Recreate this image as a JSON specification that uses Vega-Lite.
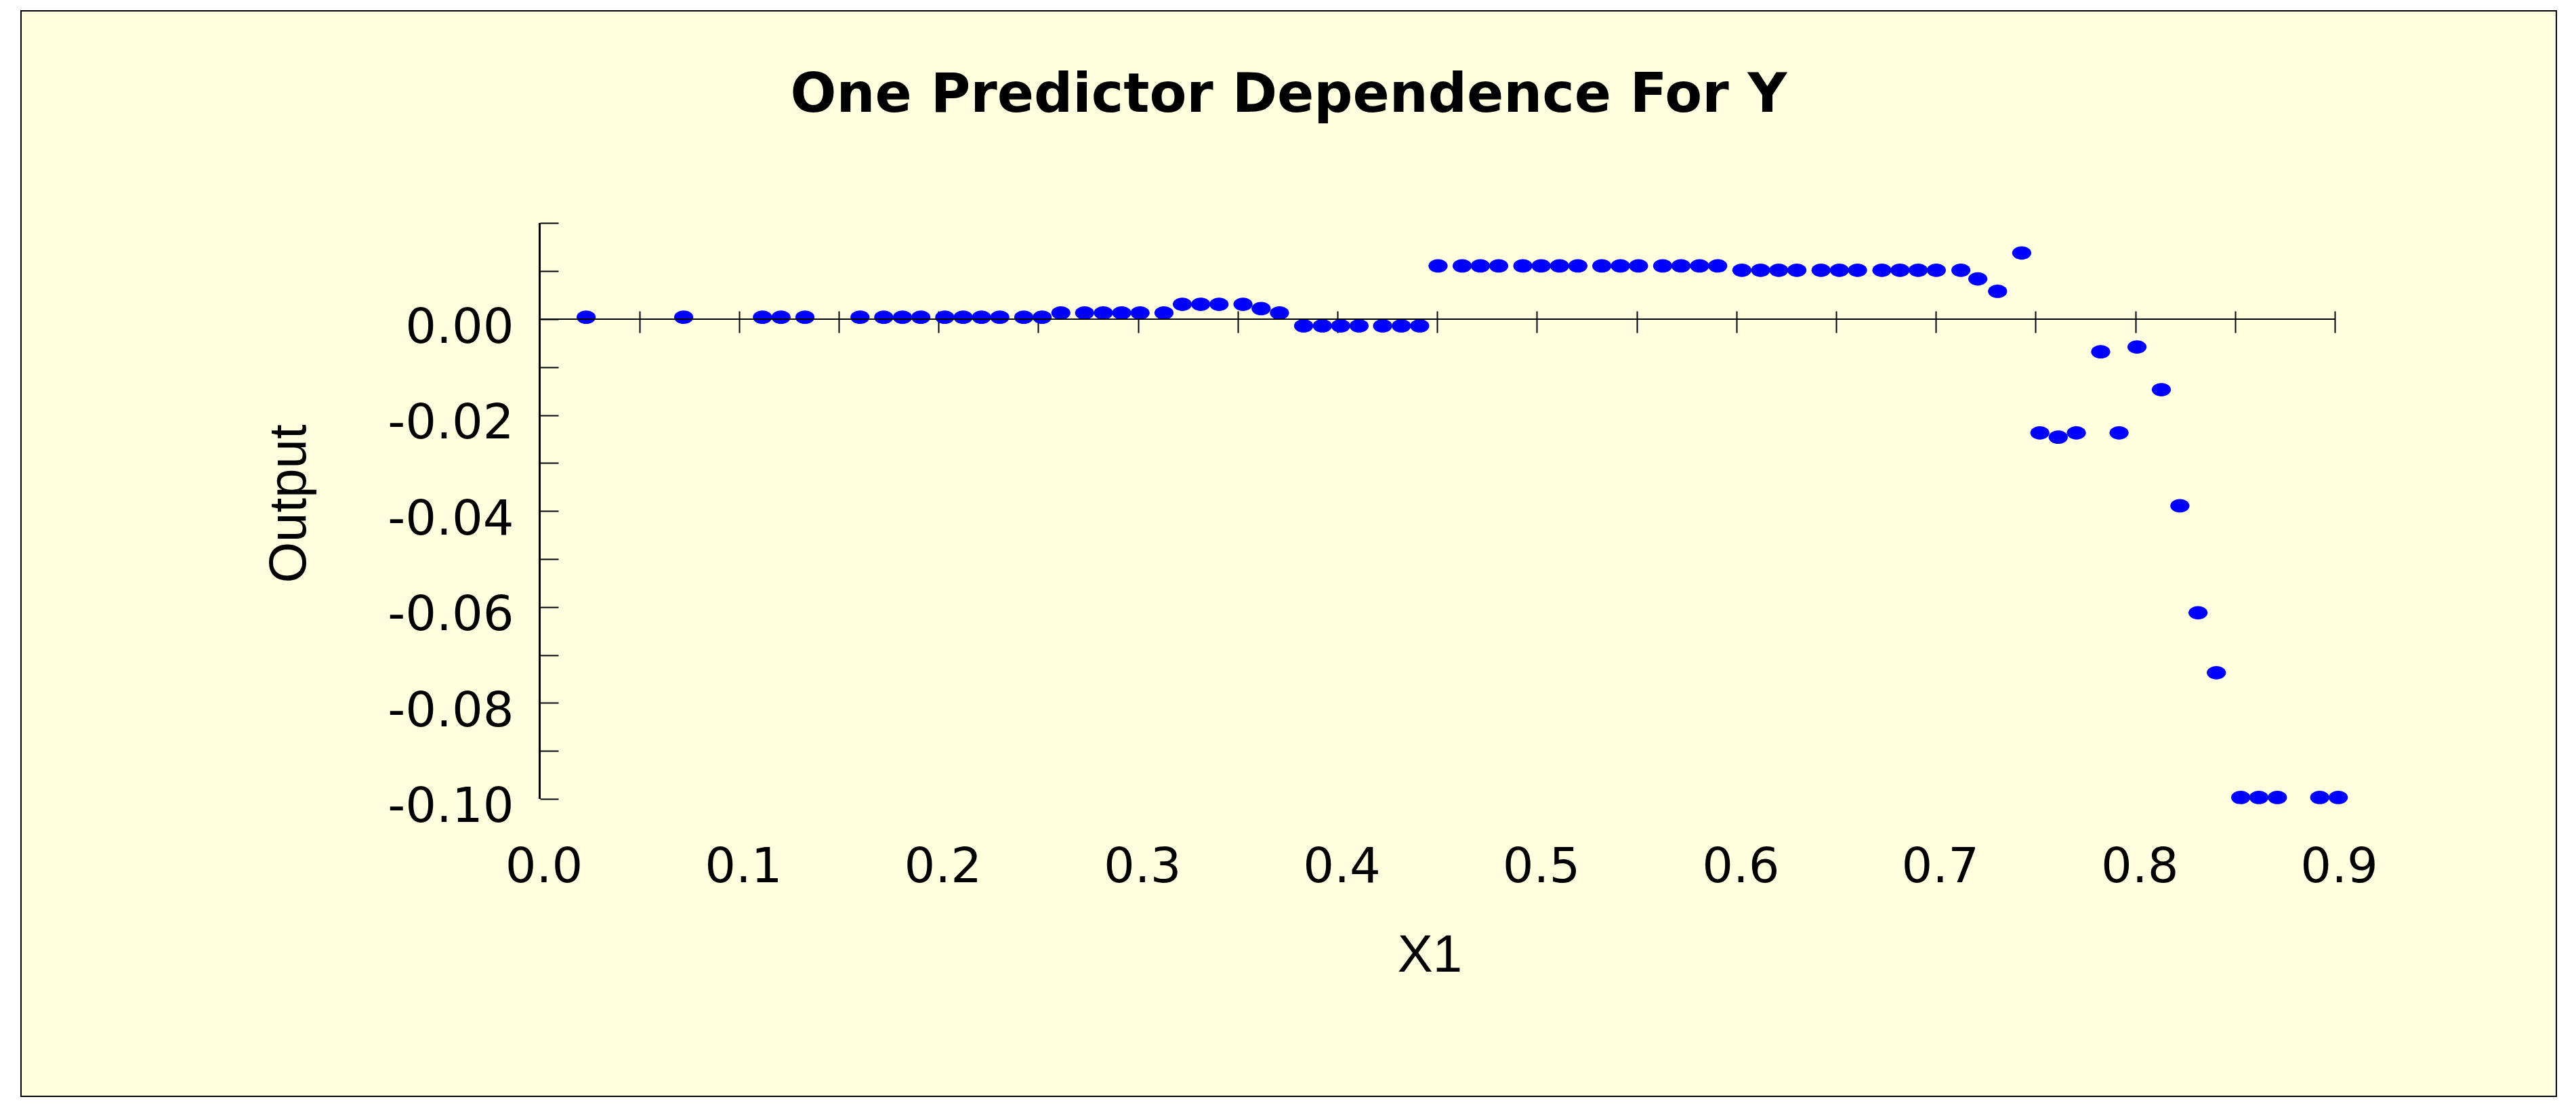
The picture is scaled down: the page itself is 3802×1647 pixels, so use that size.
{
  "$schema": "https://vega.github.io/schema/vega-lite/v6.json",
  "width": 3742,
  "height": 1602,
  "autosize": {"type": "none"},
  "padding": {"left": 31, "top": 16, "right": 29, "bottom": 29},
  "background": "white",
  "title": {
    "text": "One Predictor Dependence For Y",
    "font": "DejaVu Sans",
    "fontSize": 80,
    "fontWeight": "bold",
    "color": "black",
    "anchor": "middle",
    "frame": "group",
    "orient": "top",
    "baseline": "alphabetic",
    "offset": -229
  },
  "config": {
    "view": {"fill": "#FFFFE0", "stroke": "black", "strokeWidth": 2},
    "axis": {
      "grid": false,
      "domain": false,
      "labelFont": "DejaVu Sans",
      "labelFontSize": 72,
      "labelColor": "black",
      "labelFlush": false,
      "labelOverlap": false,
      "labelBound": false,
      "labelLimit": 0,
      "tickColor": "black",
      "tickWidth": 2,
      "titleFont": "Liberation Sans",
      "titleFontSize": 78,
      "titleFontWeight": "normal",
      "titleColor": "black"
    }
  },
  "data": {
    "values": [
      {"x1": 0.0233, "output": 0.0004},
      {"x1": 0.0722, "output": 0.0004},
      {"x1": 0.1117, "output": 0.0004},
      {"x1": 0.1210, "output": 0.0004},
      {"x1": 0.1330, "output": 0.0004},
      {"x1": 0.1606, "output": 0.0004},
      {"x1": 0.1725, "output": 0.0004},
      {"x1": 0.1819, "output": 0.0004},
      {"x1": 0.1911, "output": 0.0004},
      {"x1": 0.2031, "output": 0.0004},
      {"x1": 0.2123, "output": 0.0004},
      {"x1": 0.2215, "output": 0.0004},
      {"x1": 0.2307, "output": 0.0004},
      {"x1": 0.2427, "output": 0.0004},
      {"x1": 0.2519, "output": 0.0004},
      {"x1": 0.2613, "output": 0.0013},
      {"x1": 0.2732, "output": 0.0013},
      {"x1": 0.2826, "output": 0.0013},
      {"x1": 0.2918, "output": 0.0013},
      {"x1": 0.3010, "output": 0.0013},
      {"x1": 0.3130, "output": 0.0013},
      {"x1": 0.3222, "output": 0.0031},
      {"x1": 0.3314, "output": 0.0031},
      {"x1": 0.3406, "output": 0.0031},
      {"x1": 0.3526, "output": 0.0031},
      {"x1": 0.3617, "output": 0.0022},
      {"x1": 0.3709, "output": 0.0013},
      {"x1": 0.3830, "output": -0.0014},
      {"x1": 0.3924, "output": -0.0014},
      {"x1": 0.4016, "output": -0.0014},
      {"x1": 0.4108, "output": -0.0014},
      {"x1": 0.4226, "output": -0.0014},
      {"x1": 0.4320, "output": -0.0014},
      {"x1": 0.4412, "output": -0.0014},
      {"x1": 0.4504, "output": 0.0111},
      {"x1": 0.4625, "output": 0.0111},
      {"x1": 0.4716, "output": 0.0111},
      {"x1": 0.4808, "output": 0.0111},
      {"x1": 0.4929, "output": 0.0111},
      {"x1": 0.5021, "output": 0.0111},
      {"x1": 0.5113, "output": 0.0111},
      {"x1": 0.5205, "output": 0.0111},
      {"x1": 0.5325, "output": 0.0111},
      {"x1": 0.5418, "output": 0.0111},
      {"x1": 0.5509, "output": 0.0111},
      {"x1": 0.5630, "output": 0.0111},
      {"x1": 0.5722, "output": 0.0111},
      {"x1": 0.5815, "output": 0.0111},
      {"x1": 0.5906, "output": 0.0111},
      {"x1": 0.6027, "output": 0.0102},
      {"x1": 0.6121, "output": 0.0102},
      {"x1": 0.6212, "output": 0.0102},
      {"x1": 0.6303, "output": 0.0102},
      {"x1": 0.6424, "output": 0.0102},
      {"x1": 0.6516, "output": 0.0102},
      {"x1": 0.6607, "output": 0.0102},
      {"x1": 0.6729, "output": 0.0102},
      {"x1": 0.6820, "output": 0.0102},
      {"x1": 0.6911, "output": 0.0102},
      {"x1": 0.7002, "output": 0.0102},
      {"x1": 0.7125, "output": 0.0102},
      {"x1": 0.7210, "output": 0.0084},
      {"x1": 0.7309, "output": 0.0058},
      {"x1": 0.7430, "output": 0.0138},
      {"x1": 0.7521, "output": -0.0237},
      {"x1": 0.7613, "output": -0.0246},
      {"x1": 0.7704, "output": -0.0237},
      {"x1": 0.7826, "output": -0.0068},
      {"x1": 0.7918, "output": -0.0237},
      {"x1": 0.8008, "output": -0.0058},
      {"x1": 0.8130, "output": -0.0147},
      {"x1": 0.8223, "output": -0.0389},
      {"x1": 0.8314, "output": -0.0612},
      {"x1": 0.8406, "output": -0.0737},
      {"x1": 0.8528, "output": -0.0997},
      {"x1": 0.8619, "output": -0.0997},
      {"x1": 0.8712, "output": -0.0997},
      {"x1": 0.8924, "output": -0.0997},
      {"x1": 0.9017, "output": -0.0997}
    ]
  },
  "layer": [
    {
      "mark": {"type": "point", "filled": true, "opacity": 1, "color": "#0000FF", "size": 800, "shape": "M-1,0A1,0.7,0,1,0,1,0A1,0.7,0,1,0,-1,0Z"},
      "encoding": {
        "x": {
          "field": "x1",
          "type": "quantitative",
          "scale": {"domain": [-0.26002, 1.01104], "nice": false, "zero": false},
          "axis": {
            "title": "X1",
            "values": [0, 0.05, 0.1, 0.15, 0.2, 0.25, 0.3, 0.35, 0.4, 0.45, 0.5, 0.55, 0.6, 0.65, 0.7, 0.75, 0.8, 0.85, 0.9],
            "labelExpr": "round(datum.value * 100) % 10 == 0 ? format(datum.value, '.1f') : ''",
            "offset": -1159,
            "tickSize": 32,
            "labelPadding": 753,
            "labelOffset": 6,
            "titleX": 2079,
            "titleY": 912
          }
        },
        "y": {
          "field": "output",
          "type": "quantitative",
          "scale": {"domain": [-0.162006, 0.064266], "nice": false, "zero": false},
          "axis": {
            "title": "Output",
            "values": [0.02, 0.01, 0, -0.01, -0.02, -0.03, -0.04, -0.05, -0.06, -0.07, -0.08, -0.09, -0.1],
            "labelExpr": "(datum.value > 0.015 || abs(round(datum.value * 100)) % 2 == 1) ? '' : replace(format(datum.value, '.2f'), '\u2212', '-')",
            "offset": -793,
            "tickSize": 27,
            "labelPadding": 39,
            "labelOffset": 12,
            "titleX": -358,
            "titleY": 727
          }
        }
      }
    },
    {
      "mark": {"type": "rule", "color": "black", "strokeWidth": 2},
      "encoding": {
        "x": {"datum": 0, "type": "quantitative"},
        "y": {"datum": 0.02, "type": "quantitative"},
        "y2": {"datum": -0.1}
      }
    },
    {
      "mark": {"type": "rule", "color": "black", "strokeWidth": 2},
      "encoding": {
        "y": {"datum": 0, "type": "quantitative"},
        "x": {"datum": 0, "type": "quantitative"},
        "x2": {"datum": 0.9}
      }
    }
  ]
}
